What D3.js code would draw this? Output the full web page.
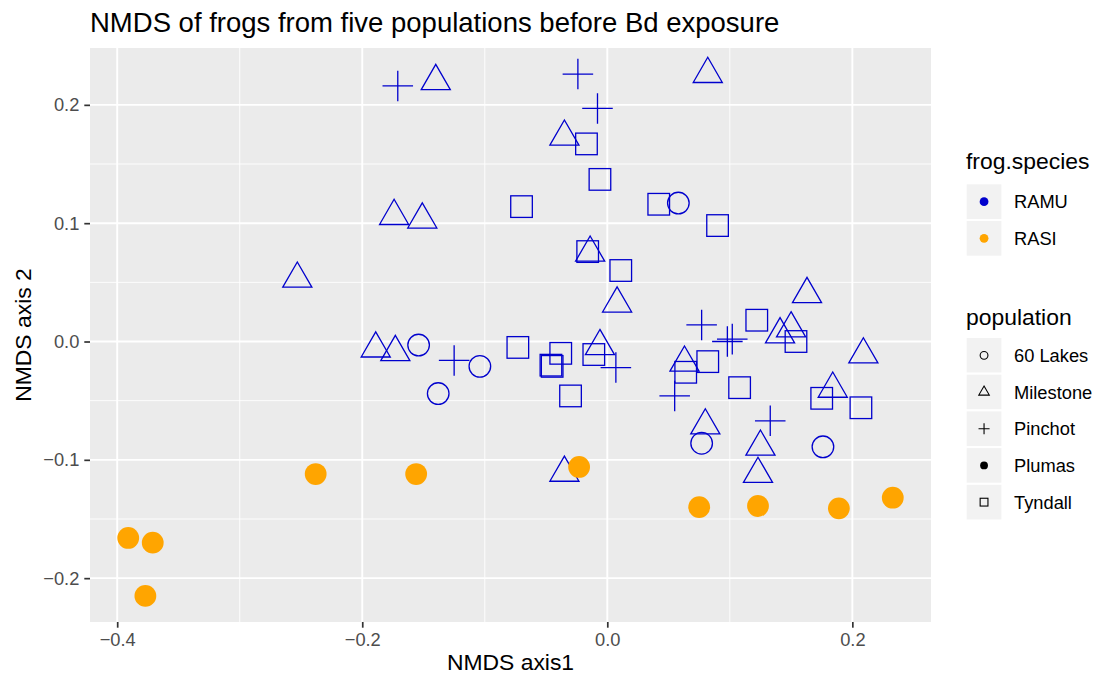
<!DOCTYPE html>
<html>
<head>
<meta charset="utf-8">
<script src="https://cdn.jsdelivr.net/npm/d3@7"></script>
<style>
  body { margin: 0; background: #fff; }
  svg text { font-family: "Liberation Sans", Arial, Helvetica, sans-serif; }
</style>
</head>
<body>
<div id="chart"></div>
<script>
// NMDS scores, one array of [axis1, axis2] per population
const lakes60 = [[0.058, 0.117], [-0.154, -0.003], [-0.104, -0.021], [-0.138, -0.044], [0.077, -0.086], [0.176, -0.089]];
const milestone = [[-0.253, 0.053], [-0.140, 0.220], [-0.174, 0.106], [-0.151, 0.103], [-0.035, 0.173], [-0.014, 0.075],
  [0.008, 0.032], [0.082, 0.226], [0.163, 0.040], [0.150, 0.011], [0.141, 0.006], [0.209, -0.011], [0.063, -0.018],
  [0.184, -0.040], [0.080, -0.071], [0.125, -0.089], [0.123, -0.112], [-0.189, -0.006], [-0.173, -0.009],
  [-0.035, -0.111], [-0.006, -0.004]];
const pinchot = [[-0.171, 0.216], [-0.024, 0.226], [-0.008, 0.197], [-0.125, -0.016], [0.007, -0.022], [0.077, 0.014],
  [0.098, 0.000], [0.102, 0.002], [0.055, -0.046], [0.133, -0.067]];
const plumas = [[-0.391, -0.166], [-0.371, -0.170], [-0.377, -0.215], [-0.238, -0.112], [-0.156, -0.112], [-0.023, -0.106],
  [0.075, -0.140], [0.123, -0.139], [0.189, -0.141], [0.233, -0.132]];
const tyndall = [[-0.017, 0.167], [-0.006, 0.137], [-0.070, 0.114], [0.042, 0.116], [-0.016, 0.076], [0.011, 0.060],
  [0.090, 0.098], [0.122, 0.018], [0.154, 0.000], [0.082, -0.017], [0.064, -0.026], [0.108, -0.039], [0.175, -0.048],
  [0.207, -0.056], [-0.073, -0.005], [-0.038, -0.010], [-0.046, -0.020], [-0.045, -0.021], [-0.030, -0.046],
  [-0.011, -0.011]];

const speciesNames = ["RAMU", "RASI"];
const populationNames = ["60 Lakes", "Milestone", "Pinchot", "Plumas", "Tyndall"];
const xTicks = [-0.4, -0.2, 0.0, 0.2];
const yTicks = [-0.2, -0.1, 0.0, 0.1, 0.2];

const chartTitle = "NMDS of frogs from five populations before Bd exposure";
const xTitle = "NMDS axis1";
const yTitle = "NMDS axis 2";

// build rows (Plumas frogs are RASI, all others RAMU)
let groups = [lakes60, milestone, pinchot, plumas, tyndall];
let rows = [];
groups.forEach(function(g, i) {
  g.forEach(function(p) {
    rows.push({ x: p[0], y: p[1], population: populationNames[i], species: i === 3 ? "RASI" : "RAMU" });
  });
});
// blue points first, orange on top
rows.sort(function(a, b) { return d3.ascending(a.species, b.species); });

let svgWidth = 1096, svgHeight = 675;
let panel = { left: 90, right: 931, top: 48, bottom: 622 };

let colour = d3.scaleOrdinal().domain(speciesNames).range(["#0000CD", "#FFA500"]);
let shapeOf = d3.scaleOrdinal().domain(populationNames).range(["circle", "triangle", "plus", "dot", "square"]);

// ggplot-style 5% expansion
function expand(ext) {
  let pad = (ext[1] - ext[0]) * 0.05;
  return [ext[0] - pad, ext[1] + pad];
}
let xScale = d3.scaleLinear().domain(expand(d3.extent(rows, d => d.x))).range([panel.left, panel.right]);
let yScale = d3.scaleLinear().domain(expand(d3.extent(rows, d => d.y))).range([panel.bottom, panel.top]);

let svg = d3.select("#chart").append("svg")
  .attr("width", svgWidth)
  .attr("height", svgHeight);

// panel background
svg.append("rect")
  .attr("x", panel.left).attr("y", panel.top)
  .attr("width", panel.right - panel.left).attr("height", panel.bottom - panel.top)
  .attr("fill", "#EBEBEB");

// minor grid at midpoints
let xMinor = d3.range(xTicks.length + 1).map(i => (i === 0 ? xTicks[0] - 0.1 : xTicks[i - 1] + 0.1))
  .filter(v => v > xScale.domain()[0] && v < xScale.domain()[1]);
let yMinor = d3.range(yTicks.length + 1).map(i => (i === 0 ? yTicks[0] - 0.05 : yTicks[i - 1] + 0.05))
  .filter(v => v > yScale.domain()[0] && v < yScale.domain()[1]);

let grid = svg.append("g");
grid.selectAll(".xminor").data(xMinor).enter().append("line")
  .attr("x1", d => xScale(d)).attr("x2", d => xScale(d))
  .attr("y1", panel.top).attr("y2", panel.bottom)
  .attr("stroke", "#fff").attr("stroke-width", 0.9);
grid.selectAll(".yminor").data(yMinor).enter().append("line")
  .attr("y1", d => yScale(d)).attr("y2", d => yScale(d))
  .attr("x1", panel.left).attr("x2", panel.right)
  .attr("stroke", "#fff").attr("stroke-width", 0.9);
grid.selectAll(".xmajor").data(xTicks).enter().append("line")
  .attr("x1", d => xScale(d)).attr("x2", d => xScale(d))
  .attr("y1", panel.top).attr("y2", panel.bottom)
  .attr("stroke", "#fff").attr("stroke-width", 1.9);
grid.selectAll(".ymajor").data(yTicks).enter().append("line")
  .attr("y1", d => yScale(d)).attr("y2", d => yScale(d))
  .attr("x1", panel.left).attr("x2", panel.right)
  .attr("stroke", "#fff").attr("stroke-width", 1.9);

// R-style point shapes
function drawShape(sel, shape, r, col, sw) {
  if (shape === "circle") {
    sel.append("circle").attr("r", r).attr("fill", "none").attr("stroke", col).attr("stroke-width", sw);
  } else if (shape === "dot") {
    sel.append("circle").attr("r", r).attr("fill", col);
  } else if (shape === "square") {
    sel.append("rect").attr("x", -r).attr("y", -r).attr("width", 2 * r).attr("height", 2 * r)
      .attr("fill", "none").attr("stroke", col).attr("stroke-width", sw);
  } else if (shape === "triangle") {
    let t0 = 1.5551 * r, t1 = 1.3468 * r, t2 = t0 / 2;
    sel.append("path").attr("d", `M0,${-t0}L${t1},${t2}L${-t1},${t2}Z`)
      .attr("fill", "none").attr("stroke", col).attr("stroke-width", sw);
  } else if (shape === "plus") {
    let a = Math.SQRT2 * r;
    sel.append("path").attr("d", `M${-a},0H${a}M0,${-a}V${a}`)
      .attr("fill", "none").attr("stroke", col).attr("stroke-width", sw);
  }
}

let pts = svg.append("g").selectAll("g")
  .data(rows).enter().append("g")
  .attr("transform", d => `translate(${xScale(d.x)},${yScale(d.y)})`);
pts.each(function(d) {
  let s = shapeOf(d.population);
  drawShape(d3.select(this), s, s === "dot" ? 10.9 : 10.8, colour(d.species), 1.3);
});

// axes
let fmt = d => d3.format(".1f")(d).replace("-", "\u2212");
let xAxis = svg.append("g").attr("transform", `translate(0,${panel.bottom})`)
  .call(d3.axisBottom(xScale).tickValues(xTicks).tickSize(5.7).tickPadding(5.6).tickFormat(fmt));
let yAxis = svg.append("g").attr("transform", `translate(${panel.left},0)`)
  .call(d3.axisLeft(yScale).tickValues(yTicks).tickSize(5.7).tickPadding(5).tickFormat(fmt));
[xAxis, yAxis].forEach(function(ax) {
  ax.select(".domain").remove();
  ax.selectAll(".tick line").attr("stroke", "#333333").attr("stroke-width", 1.7);
  ax.selectAll(".tick text").attr("fill", "#4D4D4D").style("font-size", "18.3px");
});

// titles
svg.append("text").attr("x", panel.left).attr("y", 32)
  .style("font-size", "27.5px").attr("fill", "#000").text(chartTitle);
svg.append("text").attr("x", (panel.left + panel.right) / 2).attr("y", 669.5)
  .attr("text-anchor", "middle").style("font-size", "22.9px").text(xTitle);
svg.append("text")
  .attr("transform", `translate(30.7,${(panel.top + panel.bottom) / 2}) rotate(-90)`)
  .attr("text-anchor", "middle").style("font-size", "22.9px").text(yTitle);

// legends
let keySize = 36.7, keyX = 965.7, labelX = 1014;
function legend(title, titleY, keyTop, items, drawKey) {
  let g = svg.append("g");
  g.append("text").attr("x", 966).attr("y", titleY).style("font-size", "22.9px").text(title);
  let k = g.selectAll(".key").data(items).enter().append("g")
    .attr("transform", (d, i) => `translate(${keyX},${keyTop + i * keySize})`);
  k.append("rect").attr("width", keySize).attr("height", keySize)
    .attr("fill", "#F2F2F2").attr("stroke", "#fff").attr("stroke-width", 2);
  k.each(function(d) {
    let c = d3.select(this).append("g").attr("transform", `translate(${keySize / 2},${keySize / 2})`);
    drawKey(c, d);
  });
  k.append("text").attr("x", labelX - keyX).attr("y", keySize / 2 + 6.6)
    .style("font-size", "18.3px").text(d => d);
}
legend("frog.species", 168.5, 183.3, speciesNames, function(c, d) { drawShape(c, "dot", 4.4, colour(d), 1); });
legend("population", 325, 337, populationNames, function(c, d) {
  drawShape(c, shapeOf(d), 3.9, "#000", 1.1);
});
</script>
</body>
</html>
